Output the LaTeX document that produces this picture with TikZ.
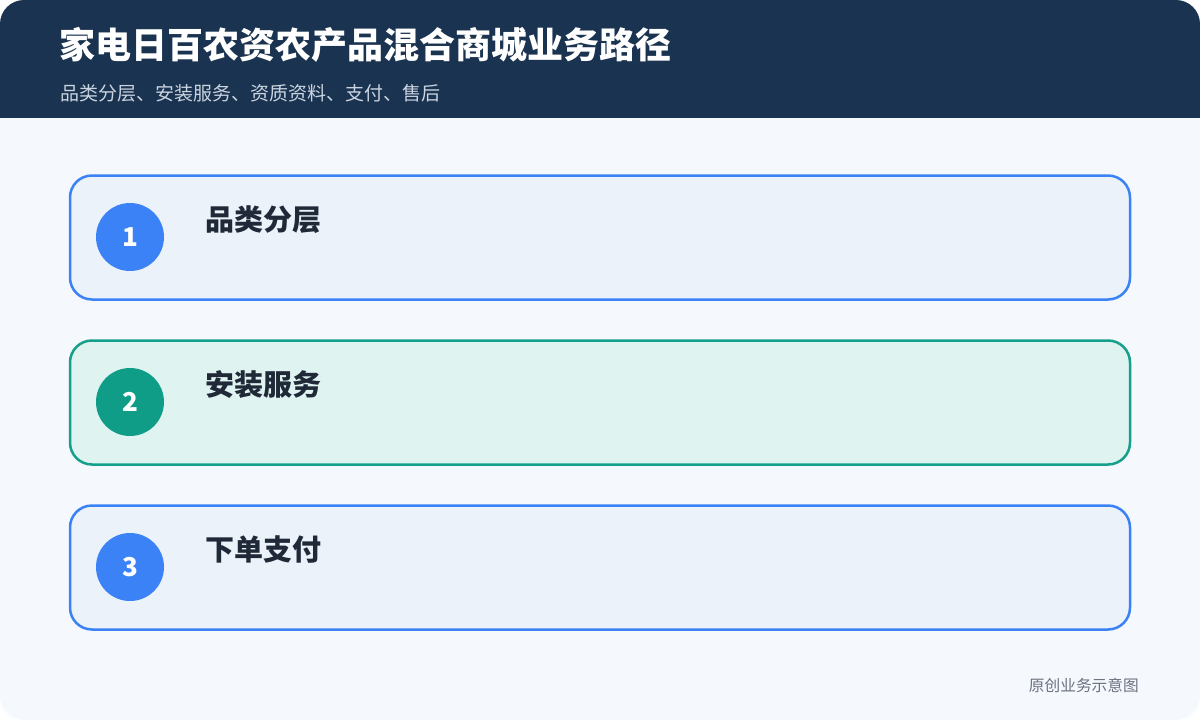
\documentclass[tikz,border=0pt]{standalone}
\usepackage{fontspec}
\newfontfamily\cjk{Noto Sans CJK SC}
\definecolor{navy}{HTML}{1A3350}
\definecolor{bodybg}{HTML}{F5F8FD}
\definecolor{bluestroke}{HTML}{3B82F6}
\definecolor{bluefill}{HTML}{EBF2FA}
\definecolor{greenstroke}{HTML}{14A08A}
\definecolor{greencirc}{HTML}{0F9D88}
\definecolor{greenfill}{HTML}{DFF4F1}
\definecolor{darktext}{HTML}{1F2937}
\definecolor{subtext}{HTML}{CBD5E1}
\definecolor{foottext}{HTML}{6B7280}
\tikzset{
  card/.style={rounded corners=22pt, line width=2.5pt, minimum width=1060pt, minimum height=124pt, inner sep=0pt},
  numcirc/.style={circle, minimum size=68pt, inner sep=0pt, text=white, font=\cjk\bfseries\fontsize{26}{30}\selectfont},
  cardtitle/.style={anchor=west, inner sep=0pt, text=darktext, font=\cjk\bfseries\fontsize{29}{33}\selectfont},
}
\begin{document}
\begin{tikzpicture}[x=1pt,y=-1pt]
\useasboundingbox (0,0) rectangle (1200,720);
\fill[white] (0,0) rectangle (1200,720);
\begin{scope}
\clip[rounded corners=24pt] (0,0) rectangle (1200,720);
\fill[bodybg] (0,0) rectangle (1200,720);
\fill[navy] (0,0) rectangle (1200,118);
\end{scope}
\node[anchor=west, inner sep=0pt, text=white, font=\cjk\bfseries\fontsize{36}{40}\selectfont] (title) at (59,45) {家电日百农资农产品混合商城业务路径};
\node[anchor=west, inner sep=0pt, text=subtext, font=\cjk\fontsize{19}{22}\selectfont] (sub) at (60,93) {品类分层、安装服务、资质资料、支付、售后};

\node[card, draw=bluestroke, fill=bluefill] (c1) at (600,237.5) {};
\node[numcirc, fill=bluestroke] (n1) at (130,237) {1};
\node[cardtitle] (t1) at (205.5,220) {品类分层};

\node[card, draw=greenstroke, fill=greenfill] (c2) at (600,402.5) {};
\node[numcirc, fill=greencirc] (n2) at (130,402) {2};
\node[cardtitle] (t2) at (205.5,385) {安装服务};

\node[card, draw=bluestroke, fill=bluefill] (c3) at (600,567.5) {};
\node[numcirc, fill=bluestroke] (n3) at (130,567) {3};
\node[cardtitle] (t3) at (205.5,550) {下单支付};

\node[anchor=east, inner sep=0pt, text=foottext, font=\cjk\fontsize{15.7}{18}\selectfont] (foot) at (1139,685) {原创业务示意图};
\end{tikzpicture}
\end{document}
